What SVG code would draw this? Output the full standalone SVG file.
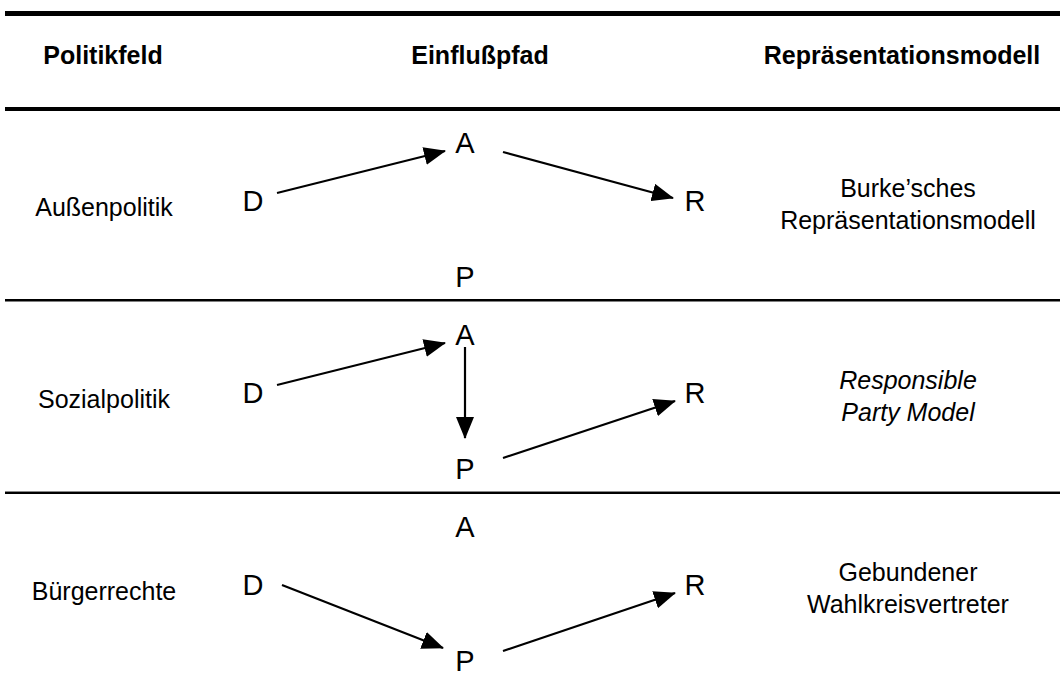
<svg xmlns="http://www.w3.org/2000/svg" width="1060" height="682" viewBox="0 0 1060 682">
<defs>
<style>
text{font-family:"Liberation Sans",Arial,sans-serif;fill:#000}
.h{font-size:25px;font-weight:bold;text-anchor:middle}
.t{font-size:25px;text-anchor:middle}
.i{font-style:italic}
.n{font-size:29px;text-anchor:middle}
.c{stroke:#000;stroke-width:2.2;fill:none;marker-end:url(#ah)}
</style>
<marker id="ah" markerUnits="userSpaceOnUse" markerWidth="22" markerHeight="18" refX="21" refY="9" orient="auto" viewBox="0 0 22 18">
<path d="M0,0 L22,9 L0,18 z" fill="#000"/>
</marker>
</defs>
<rect width="1060" height="682" fill="#fff"/>
<g id="table">
<rect x="5" y="11" width="1055" height="5" fill="#000"/>
<rect x="5" y="107" width="1055" height="4" fill="#000"/>
<rect x="5" y="299" width="1055" height="2.5" fill="#000"/>
<rect x="5" y="491" width="1055" height="1" fill="#888"/>
<rect x="5" y="492" width="1055" height="2" fill="#000"/>
</g>
<g id="header">
<text class="h" x="103" y="64">Politikfeld</text>
<text class="h" x="480" y="64">Einflußpfad</text>
<text class="h" x="902" y="64">Repräsentationsmodell</text>
</g>
<g id="row1">
<text class="t" x="104" y="216">Außenpolitik</text>
<text class="t" x="908" y="197">Burke’sches</text>
<text class="t" x="908" y="229">Repräsentationsmodell</text>
<g id="r1-D"><text class="n" x="253" y="211">D</text></g>
<g id="r1-A"><text class="n" x="465" y="153">A</text></g>
<g id="r1-R"><text class="n" x="695" y="211">R</text></g>
<g id="r1-P"><text class="n" x="465" y="287">P</text></g>
</g>
<g id="row2">
<text class="t" x="104" y="408">Sozialpolitik</text>
<text class="t i" x="908" y="389">Responsible</text>
<text class="t i" x="908" y="421">Party Model</text>
<g id="r2-D"><text class="n" x="253" y="403">D</text></g>
<g id="r2-A"><text class="n" x="465" y="345">A</text></g>
<g id="r2-R"><text class="n" x="695" y="403">R</text></g>
<g id="r2-P"><text class="n" x="465" y="479">P</text></g>
</g>
<g id="row3">
<text class="t" x="104" y="600">Bürgerrechte</text>
<text class="t" x="908" y="581">Gebundener</text>
<text class="t" x="908" y="613">Wahlkreisvertreter</text>
<g id="r3-D"><text class="n" x="253" y="595">D</text></g>
<g id="r3-A"><text class="n" x="465" y="537">A</text></g>
<g id="r3-R"><text class="n" x="695" y="595">R</text></g>
<g id="r3-P"><text class="n" x="465" y="671">P</text></g>
</g>
<g id="connectors">
<line class="c" x1="277" y1="193" x2="445" y2="151"/>
<line class="c" x1="503" y1="152" x2="673" y2="198"/>
<line class="c" x1="277" y1="385" x2="445" y2="343"/>
<line class="c" x1="465" y1="347" x2="465" y2="438"/>
<line class="c" x1="503" y1="458" x2="675" y2="401"/>
<line class="c" x1="282" y1="585" x2="443" y2="648"/>
<line class="c" x1="503" y1="651" x2="675" y2="593"/>
</g>
</svg>
